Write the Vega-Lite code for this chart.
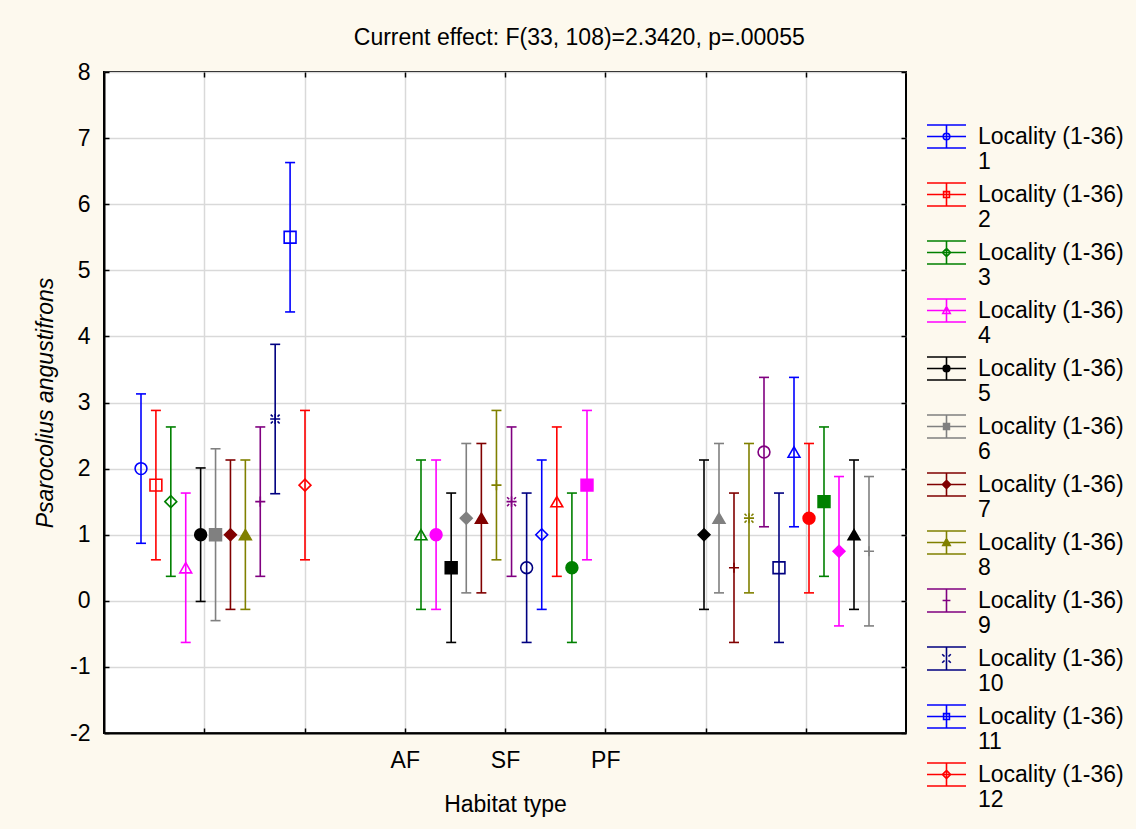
{
  "$schema": "https://vega.github.io/schema/vega-lite/v6.json",
  "width": 802,
  "height": 661,
  "autosize": {"type": "none"},
  "padding": {"left": 104, "top": 72, "right": 230, "bottom": 96},
  "background": "#FDF9EE",
  "title": {
    "text": "Current effect: F(33, 108)=2.3420, p=.00055",
    "fontSize": 23,
    "fontWeight": "normal",
    "color": "#000000",
    "anchor": "middle",
    "frame": "bounds",
    "baseline": "alphabetic",
    "offset": -7
  },
  "config": {
    "font": "Liberation Sans",
    "view": {"stroke": "#000000", "strokeWidth": 2, "fill": "#FFFFFF"}
  },
  "data": {
    "values": [
      {"locality": 1, "habitat": "AF", "mean": 2.0, "lo": 0.87, "hi": 3.13},
      {"locality": 2, "habitat": "AF", "mean": 1.75, "lo": 0.62, "hi": 2.88},
      {"locality": 3, "habitat": "AF", "mean": 1.5, "lo": 0.37, "hi": 2.63},
      {"locality": 4, "habitat": "AF", "mean": 0.5, "lo": -0.63, "hi": 1.63},
      {"locality": 5, "habitat": "AF", "mean": 1.0, "lo": -0.01, "hi": 2.01},
      {"locality": 6, "habitat": "AF", "mean": 1.0, "lo": -0.3, "hi": 2.3},
      {"locality": 7, "habitat": "AF", "mean": 1.0, "lo": -0.13, "hi": 2.13},
      {"locality": 8, "habitat": "AF", "mean": 1.0, "lo": -0.13, "hi": 2.13},
      {"locality": 9, "habitat": "AF", "mean": 1.5, "lo": 0.37, "hi": 2.63},
      {"locality": 10, "habitat": "AF", "mean": 2.75, "lo": 1.62, "hi": 3.88},
      {"locality": 11, "habitat": "AF", "mean": 5.5, "lo": 4.37, "hi": 6.63},
      {"locality": 12, "habitat": "AF", "mean": 1.75, "lo": 0.62, "hi": 2.88},
      {"locality": 13, "habitat": "SF", "mean": 1.0, "lo": -0.13, "hi": 2.13},
      {"locality": 14, "habitat": "SF", "mean": 1.0, "lo": -0.13, "hi": 2.13},
      {"locality": 15, "habitat": "SF", "mean": 0.5, "lo": -0.63, "hi": 1.63},
      {"locality": 16, "habitat": "SF", "mean": 1.25, "lo": 0.12, "hi": 2.38},
      {"locality": 17, "habitat": "SF", "mean": 1.25, "lo": 0.12, "hi": 2.38},
      {"locality": 18, "habitat": "SF", "mean": 1.75, "lo": 0.62, "hi": 2.88},
      {"locality": 19, "habitat": "SF", "mean": 1.5, "lo": 0.37, "hi": 2.63},
      {"locality": 20, "habitat": "SF", "mean": 0.5, "lo": -0.63, "hi": 1.63},
      {"locality": 21, "habitat": "SF", "mean": 1.0, "lo": -0.13, "hi": 2.13},
      {"locality": 22, "habitat": "SF", "mean": 1.5, "lo": 0.37, "hi": 2.63},
      {"locality": 23, "habitat": "SF", "mean": 0.5, "lo": -0.63, "hi": 1.63},
      {"locality": 24, "habitat": "SF", "mean": 1.75, "lo": 0.62, "hi": 2.88},
      {"locality": 25, "habitat": "PF", "mean": 1.0, "lo": -0.13, "hi": 2.13},
      {"locality": 26, "habitat": "PF", "mean": 1.25, "lo": 0.12, "hi": 2.38},
      {"locality": 27, "habitat": "PF", "mean": 0.5, "lo": -0.63, "hi": 1.63},
      {"locality": 28, "habitat": "PF", "mean": 1.25, "lo": 0.12, "hi": 2.38},
      {"locality": 29, "habitat": "PF", "mean": 2.25, "lo": 1.12, "hi": 3.38},
      {"locality": 30, "habitat": "PF", "mean": 0.5, "lo": -0.63, "hi": 1.63},
      {"locality": 31, "habitat": "PF", "mean": 2.25, "lo": 1.12, "hi": 3.38},
      {"locality": 32, "habitat": "PF", "mean": 1.25, "lo": 0.12, "hi": 2.38},
      {"locality": 33, "habitat": "PF", "mean": 1.5, "lo": 0.37, "hi": 2.63},
      {"locality": 34, "habitat": "PF", "mean": 0.75, "lo": -0.38, "hi": 1.88},
      {"locality": 35, "habitat": "PF", "mean": 1.0, "lo": -0.13, "hi": 2.13},
      {"locality": 36, "habitat": "PF", "mean": 0.75, "lo": -0.38, "hi": 1.88}
    ]
  },
  "resolve": {
    "scale": {"x": "independent"},
    "axis": {"x": "independent", "y": "independent"}
  },
  "layer": [
    {
      "mark": {"type": "point", "opacity": 0},
      "encoding": {
        "x": {
          "field": "habitat",
          "type": "nominal",
          "scale": {"type": "point", "domain": ["g1", "g2", "AF", "SF", "PF", "g6", "g7"], "padding": 1},
          "axis": {
            "orient": "bottom",
            "title": "Habitat type",
            "labelExpr": "indexof(['AF','SF','PF'], datum.value) >= 0 ? datum.value : ''",
            "labelOverlap": false,
            "labelAngle": 0,
            "grid": true,
            "gridColor": "#D9D9D9",
            "gridWidth": 1.5,
            "domain": true,
            "domainColor": "#000000",
            "domainWidth": 2,
            "ticks": true,
            "tickColor": "#000000",
            "tickSize": -5,
            "tickWidth": 1.5,
            "labelFontSize": 23,
            "labelColor": "#000000",
            "labelPadding": 21,
            "titleFontSize": 23,
            "titleFontWeight": "normal",
            "titleColor": "#000000",
            "titlePadding": 21
          }
        },
        "y": {
          "field": "mean",
          "type": "quantitative",
          "scale": {"domain": [-2, 8], "nice": false, "zero": false},
          "axis": {
            "orient": "left",
            "values": [-2, -1, 0, 1, 2, 3, 4, 5, 6, 7, 8],
            "labelExpr": "'' + datum.value",
            "title": "Psarocolius angustifrons",
            "titleFontStyle": "italic",
            "titleFontSize": 23,
            "titleFontWeight": "normal",
            "titleColor": "#000000",
            "titlePadding": 12,
            "grid": true,
            "gridColor": "#D9D9D9",
            "gridWidth": 1.5,
            "domain": true,
            "domainColor": "#000000",
            "domainWidth": 2,
            "ticks": true,
            "tickColor": "#000000",
            "tickSize": -5,
            "tickWidth": 1.5,
            "labelFontSize": 23,
            "labelColor": "#000000",
            "labelPadding": 19
          }
        }
      }
    },
    {
      "mark": {"type": "point", "opacity": 0},
      "encoding": {
        "x": {
          "field": "habitat",
          "type": "nominal",
          "scale": {"type": "point", "domain": ["g1", "g2", "AF", "SF", "PF", "g6", "g7"], "padding": 1},
          "axis": {"orient": "top", "title": null, "labels": false, "grid": false, "domain": false, "ticks": true, "tickColor": "#000000", "tickSize": -5, "tickWidth": 1.5}
        },
        "y": {
          "field": "mean",
          "type": "quantitative",
          "scale": {"domain": [-2, 8], "nice": false, "zero": false},
          "axis": {"orient": "right", "title": null, "values": [-2, -1, 0, 1, 2, 3, 4, 5, 6, 7, 8], "labels": false, "grid": false, "domain": false, "ticks": true, "tickColor": "#000000", "tickSize": -5, "tickWidth": 1.5}
        }
      }
    },
    {
      "encoding": {
        "x": {
          "field": "locality",
          "type": "quantitative",
          "scale": {"domain": [1, 12, 13, 24, 25, 36], "range": [37, 201, 317, 483, 600, 765], "zero": false, "nice": false},
          "axis": null
        },
        "stroke": {
          "field": "locality",
          "type": "nominal",
          "scale": {
            "domain": [1,2,3,4,5,6,7,8,9,10,11,12,13,14,15,16,17,18,19,20,21,22,23,24,25,26,27,28,29,30,31,32,33,34,35,36],
            "range": ["#0000FF","#FF0000","#008000","#FF00FF","#000000","#808080","#800000","#808000","#800080","#000080",
                      "#0000FF","#FF0000","#008000","#FF00FF","#000000","#808080","#800000","#808000","#800080","#000080",
                      "#0000FF","#FF0000","#008000","#FF00FF","#000000","#808080","#800000","#808000","#800080","#000080",
                      "#0000FF","#FF0000","#008000","#FF00FF","#000000","#808080"]
          },
          "legend": {
            "values": [1,2,3,4,5,6,7,8,9,10,11,12],
            "title": null,
            "orient": "none",
            "legendX": 822,
            "legendY": 44,
            "padding": 0,
            "symbolSize": 1521,
            "symbolStrokeWidth": 1.6,
            "labelFontSize": 23,
            "labelColor": "#000000",
            "labelOffset": 11,
            "labelLimit": 400,
            "rowPadding": 0,
            "labelExpr": "['Locality (1-36)', datum.label]",
            "encode": {
              "symbols": {
                "update": {
                  "shape": {"signal": "['M-1,-0.59H1M-1,0.59H1M0,-0.59V0.59M-1,0H1M0.17,0A0.17,0.17,0,1,1,-0.17,0A0.17,0.17,0,1,1,0.17,0Z','M-1,-0.59H1M-1,0.59H1M0,-0.59V0.59M-1,0H1M-0.15,-0.15H0.15V0.15H-0.15Z','M-1,-0.59H1M-1,0.59H1M0,-0.59V0.59M-1,0H1M0,-0.21L0.21,0L0,0.21L-0.21,0Z','M-1,-0.59H1M-1,0.59H1M0,-0.59V0.59M-1,0H1M0,-0.2L0.19,0.15H-0.19Z','M-1,-0.59H1M-1,0.59H1M0,-0.59V0.59M-1,0H1M0.17,0A0.17,0.17,0,1,1,-0.17,0A0.17,0.17,0,1,1,0.17,0Z','M-1,-0.59H1M-1,0.59H1M0,-0.59V0.59M-1,0H1M-0.15,-0.15H0.15V0.15H-0.15Z','M-1,-0.59H1M-1,0.59H1M0,-0.59V0.59M-1,0H1M0,-0.21L0.21,0L0,0.21L-0.21,0Z','M-1,-0.59H1M-1,0.59H1M0,-0.59V0.59M-1,0H1M0,-0.2L0.19,0.15H-0.19Z','M-1,-0.59H1M-1,0.59H1M0,-0.59V0.59M-0.2,0H0.2','M-1,-0.59H1M-1,0.59H1M0,-0.59V0.59M-0.22,-0.22L-0.1,-0.1M0.1,0.1L0.22,0.22M-0.22,0.22L-0.1,0.1M0.1,-0.1L0.22,-0.22','M-1,-0.59H1M-1,0.59H1M0,-0.59V0.59M-1,0H1M-0.15,-0.15H0.15V0.15H-0.15Z','M-1,-0.59H1M-1,0.59H1M0,-0.59V0.59M-1,0H1M0,-0.21L0.21,0L0,0.21L-0.21,0Z'][datum.value - 1]"},
                  "fill": {"signal": "['transparent','transparent','transparent','transparent','#000000','#808080','#800000','#808000','transparent','transparent','transparent','transparent'][datum.value - 1]"},
                  "opacity": {"value": 1},
                  "strokeWidth": {"value": 1.6}
                }
              },
              "labels": {
                "update": {"lineHeight": {"value": 25.3}}
              }
            }
          }
        }
      },
      "layer": [
        {
          "mark": {"type": "rule", "strokeWidth": 1.6},
          "encoding": {
            "y": {"field": "lo", "type": "quantitative", "axis": null},
            "y2": {"field": "hi"}
          }
        },
        {
          "mark": {"type": "rule", "strokeWidth": 1.6, "xOffset": -5, "x2Offset": 5},
          "encoding": {
            "x2": {"field": "locality"},
            "y": {"field": "hi", "type": "quantitative", "axis": null}
          }
        },
        {
          "mark": {"type": "rule", "strokeWidth": 1.6, "xOffset": -5, "x2Offset": 5},
          "encoding": {
            "x2": {"field": "locality"},
            "y": {"field": "lo", "type": "quantitative", "axis": null}
          }
        },
        {
          "mark": {"type": "point", "size": 140, "strokeWidth": 1.6, "opacity": 1},
          "encoding": {
            "y": {"field": "mean", "type": "quantitative", "axis": null},
            "shape": {
              "field": "locality",
              "type": "nominal",
              "legend": null,
              "scale": {
                "domain": [36,35,34,33,32,31,30,29,28,27,26,25,24,23,22,21,20,19,18,17,16,15,14,13,12,11,10,9,8,7,6,5,4,3,2,1],
                "range": ["M-0.85,0H0.85M0,-0.85V0.85",
                          "triangle-up","diamond","square","circle","triangle-up","square","circle",
                          "M-0.85,0H0.85M0,-0.85V0.85M-0.75,-0.75L-0.4,-0.4M0.4,0.4L0.75,0.75M-0.75,0.75L-0.4,0.4M0.4,-0.4L0.75,-0.75",
                          "M-0.85,0H0.85M0,-0.85V0.85",
                          "triangle-up","diamond","square","circle","triangle-up","diamond","circle",
                          "M-0.85,0H0.85M0,-0.85V0.85M-0.75,-0.75L-0.4,-0.4M0.4,0.4L0.75,0.75M-0.75,0.75L-0.4,0.4M0.4,-0.4L0.75,-0.75",
                          "M-0.85,0H0.85M0,-0.85V0.85",
                          "triangle-up","diamond","square","circle","triangle-up","diamond","square",
                          "M-0.85,0H0.85M0,-0.85V0.85M-0.75,-0.75L-0.4,-0.4M0.4,0.4L0.75,0.75M-0.75,0.75L-0.4,0.4M0.4,-0.4L0.75,-0.75",
                          "M-0.85,0H0.85M0,-0.85V0.85",
                          "triangle-up","diamond","square","circle","triangle-up","diamond","square","circle"]
              }
            },
            "fill": {
              "field": "locality",
              "type": "nominal",
              "legend": null,
              "scale": {
                "domain": [36,35,34,33,32,31,30,29,28,27,26,25,24,23,22,21,20,19,18,17,16,15,14,13,12,11,10,9,8,7,6,5,4,3,2,1],
                "range": ["transparent","#000000","#FF00FF","#008000","#FF0000","transparent",
                          "transparent","transparent","transparent","transparent","#808080","#000000","#FF00FF","#008000","transparent","transparent",
                          "transparent","transparent","transparent","#800000","#808080","#000000","#FF00FF","transparent","transparent","transparent",
                          "transparent","transparent","#808000","#800000","#808080","#000000","transparent","transparent","transparent","transparent"]
              }
            }
          }
        }
      ]
    }
  ]
}
